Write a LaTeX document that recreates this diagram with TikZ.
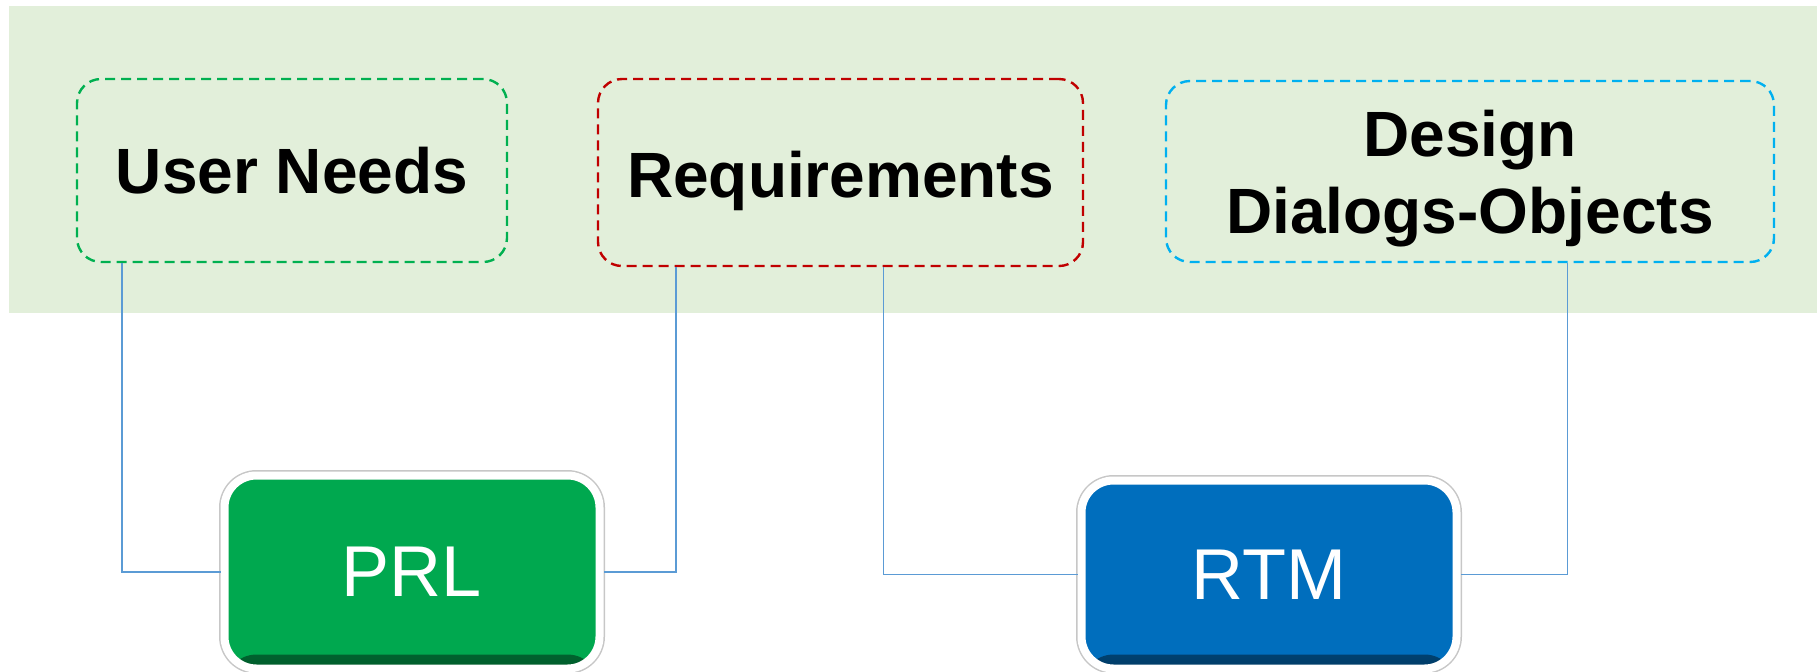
\documentclass[tikz,border=0pt]{standalone}
\usepackage{fontspec}
\setmainfont{Liberation Sans}
\usetikzlibrary{calc}
\definecolor{bggreen}{HTML}{E2EFDA}
\definecolor{dgreen}{HTML}{00B050}
\definecolor{dred}{HTML}{C00000}
\definecolor{dcyan}{HTML}{00B0F0}
\definecolor{prlgreen}{HTML}{00A84F}
\definecolor{rtmblue}{HTML}{006EBD}
\definecolor{conn}{HTML}{5B9BD5}
\tikzset{
  dashbox/.style={rounded corners=12pt, line width=1.2pt, dash pattern=on 5pt off 3pt,
    inner sep=0pt, align=center, font=\fontsize{32}{38.5}\selectfont\bfseries,
    text height=23pt, text depth=0pt},
  btn/.style={rounded corners=16pt, draw=white, line width=4pt, inner sep=0pt,
    preaction={draw=black!22, line width=5.5pt},
    minimum width=187.5pt, text=white, font=\fontsize{36}{40}\selectfont,
    path picture={\shade[top color=#1, bottom color=#1!55!black]
      ($(path picture bounding box.south west)+(0,-14)$) rectangle (path picture bounding box.south east);},
    fill=#1},
  link/.style={draw=conn, line width=0.8pt}
}
\begin{document}
\begin{tikzpicture}[x=0.5pt, y=-0.5pt]
\useasboundingbox (0,0) rectangle (1820,671);
\fill[bggreen] (9,6) rectangle (1817,313);
\node[dashbox, draw=dgreen, minimum width=215pt, minimum height=91.5pt] (un) at (292,170.5) {User Needs};
\node[dashbox, draw=dred, minimum width=242.5pt, minimum height=93.5pt, text height=24.5pt] (req) at (840.5,172.5) {Requirements};
\node[dashbox, draw=dcyan, minimum width=304pt, minimum height=90.5pt, text height=62pt] (des) at (1470,171.5) {Design\\Dialogs-Objects};
\node[btn=prlgreen, minimum height=96.5pt] (prl) at (412,572) {PRL};
\node[btn=rtmblue, minimum height=94pt] (rtm) at (1269,574.5) {RTM};
\draw[link] ($(un.south west)!0.107!(un.south east)$) |- (prl.west);
\draw[link] ($(req.south west)!0.163!(req.south east)$) |- (prl.east);
\draw[link] ($(req.south west)!0.588!(req.south east)$) |- (rtm.west);
\draw[link] ($(des.south west)!0.66!(des.south east)$) |- (rtm.east);
\end{tikzpicture}
\end{document}
